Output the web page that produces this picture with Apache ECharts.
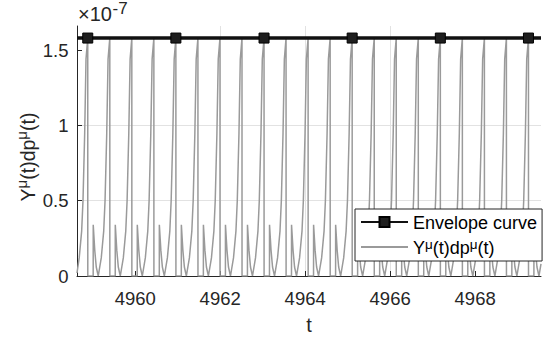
<!DOCTYPE html>
<html><head><meta charset="utf-8">
<script src="https://cdn.jsdelivr.net/npm/echarts@6/dist/echarts.min.js"></script>
<style>html,body{margin:0;padding:0;background:#fff}#c{width:546px;height:342px}</style>
</head><body><div id="c"></div>
<script>
// axis extents (y values are in units of 1e-7)
const xMin = 4958.63, xMax = 4969.55;
const yMin = 0, yMax = 1.66;
const xTicks = [4960, 4962, 4964, 4966, 4968];
const yTicks = [0, 0.5, 1, 1.5];

// Envelope curve
const envelopeT = [4958.63, 4958.883, 4960.957, 4963.032, 4965.106, 4967.181, 4969.255, 4969.55];
const envelopeY = [1.58, 1.58, 1.58, 1.58, 1.58, 1.58, 1.58, 1.58];
const envelopeMarker = [false, true, true, true, true, true, true, false];

// Y^mu(t) dp^mu(t) signal
const signalT = [
  4958.630, 4958.682, 4958.740, 4958.771, 4958.811, 4958.842,
  4958.883, 4958.884, 4959.011, 4959.012, 4959.048, 4959.083, 4959.130, 4959.201, 4959.259, 4959.290, 4959.330, 4959.361,
  4959.402, 4959.403, 4959.530, 4959.531, 4959.567, 4959.602, 4959.649, 4959.720, 4959.778, 4959.809, 4959.849, 4959.880,
  4959.920, 4959.921, 4960.048, 4960.049, 4960.085, 4960.120, 4960.167, 4960.238, 4960.296, 4960.327, 4960.367, 4960.398,
  4960.439, 4960.440, 4960.567, 4960.568, 4960.604, 4960.639, 4960.686, 4960.757, 4960.815, 4960.846, 4960.886, 4960.917,
  4960.957, 4960.958, 4961.085, 4961.086, 4961.122, 4961.157, 4961.204, 4961.275, 4961.333, 4961.364, 4961.404, 4961.435,
  4961.476, 4961.477, 4961.604, 4961.605, 4961.641, 4961.676, 4961.723, 4961.794, 4961.852, 4961.883, 4961.923, 4961.954,
  4961.995, 4961.996, 4962.123, 4962.124, 4962.160, 4962.195, 4962.242, 4962.313, 4962.371, 4962.402, 4962.442, 4962.473,
  4962.513, 4962.514, 4962.641, 4962.642, 4962.678, 4962.713, 4962.760, 4962.831, 4962.889, 4962.920, 4962.960, 4962.991,
  4963.032, 4963.033, 4963.160, 4963.161, 4963.197, 4963.232, 4963.279, 4963.350, 4963.408, 4963.439, 4963.479, 4963.510,
  4963.550, 4963.551, 4963.678, 4963.679, 4963.715, 4963.750, 4963.797, 4963.868, 4963.926, 4963.957, 4963.997, 4964.028,
  4964.069, 4964.070, 4964.197, 4964.198, 4964.234, 4964.269, 4964.316, 4964.387, 4964.445, 4964.476, 4964.516, 4964.547,
  4964.588, 4964.589, 4964.716, 4964.717, 4964.753, 4964.788, 4964.835, 4964.906, 4964.964, 4964.995, 4965.035, 4965.066,
  4965.106, 4965.107, 4965.234, 4965.235, 4965.271, 4965.306, 4965.353, 4965.424, 4965.482, 4965.513, 4965.553, 4965.584,
  4965.625, 4965.626, 4965.753, 4965.754, 4965.790, 4965.825, 4965.872, 4965.943, 4966.001, 4966.032, 4966.072, 4966.103,
  4966.143, 4966.144, 4966.271, 4966.272, 4966.308, 4966.343, 4966.390, 4966.461, 4966.519, 4966.550, 4966.590, 4966.621,
  4966.662, 4966.663, 4966.790, 4966.791, 4966.827, 4966.862, 4966.909, 4966.980, 4967.038, 4967.069, 4967.109, 4967.140,
  4967.181, 4967.182, 4967.309, 4967.310, 4967.346, 4967.381, 4967.428, 4967.499, 4967.557, 4967.588, 4967.628, 4967.659,
  4967.699, 4967.700, 4967.827, 4967.828, 4967.864, 4967.899, 4967.946, 4968.017, 4968.075, 4968.106, 4968.146, 4968.177,
  4968.218, 4968.219, 4968.346, 4968.347, 4968.383, 4968.418, 4968.465, 4968.536, 4968.594, 4968.625, 4968.665, 4968.696,
  4968.736, 4968.737, 4968.864, 4968.865, 4968.901, 4968.936, 4968.983, 4969.054, 4969.112, 4969.143, 4969.183, 4969.214,
  4969.255, 4969.256, 4969.383, 4969.384, 4969.420, 4969.455, 4969.502, 4969.550
];
const signalY = [
  0.02, 0.12, 0.30, 0.50, 0.95, 1.44,
  1.58, 0, 0, 0.34, 0.17, 0.06, 0, 0.12, 0.30, 0.50, 0.95, 1.44,
  1.58, 0, 0, 0.34, 0.17, 0.06, 0, 0.12, 0.30, 0.50, 0.95, 1.44,
  1.58, 0, 0, 0.34, 0.17, 0.06, 0, 0.12, 0.30, 0.50, 0.95, 1.44,
  1.58, 0, 0, 0.34, 0.17, 0.06, 0, 0.12, 0.30, 0.50, 0.95, 1.44,
  1.58, 0, 0, 0.34, 0.17, 0.06, 0, 0.12, 0.30, 0.50, 0.95, 1.44,
  1.58, 0, 0, 0.34, 0.17, 0.06, 0, 0.12, 0.30, 0.50, 0.95, 1.44,
  1.58, 0, 0, 0.34, 0.17, 0.06, 0, 0.12, 0.30, 0.50, 0.95, 1.44,
  1.58, 0, 0, 0.34, 0.17, 0.06, 0, 0.12, 0.30, 0.50, 0.95, 1.44,
  1.58, 0, 0, 0.34, 0.17, 0.06, 0, 0.12, 0.30, 0.50, 0.95, 1.44,
  1.58, 0, 0, 0.34, 0.17, 0.06, 0, 0.12, 0.30, 0.50, 0.95, 1.44,
  1.58, 0, 0, 0.34, 0.17, 0.06, 0, 0.12, 0.30, 0.50, 0.95, 1.44,
  1.58, 0, 0, 0.34, 0.17, 0.06, 0, 0.12, 0.30, 0.50, 0.95, 1.44,
  1.58, 0, 0, 0.34, 0.17, 0.06, 0, 0.12, 0.30, 0.50, 0.95, 1.44,
  1.58, 0, 0, 0.34, 0.17, 0.06, 0, 0.12, 0.30, 0.50, 0.95, 1.44,
  1.58, 0, 0, 0.34, 0.17, 0.06, 0, 0.12, 0.30, 0.50, 0.95, 1.44,
  1.58, 0, 0, 0.34, 0.17, 0.06, 0, 0.12, 0.30, 0.50, 0.95, 1.44,
  1.58, 0, 0, 0.34, 0.17, 0.06, 0, 0.12, 0.30, 0.50, 0.95, 1.44,
  1.58, 0, 0, 0.34, 0.17, 0.06, 0, 0.12, 0.30, 0.50, 0.95, 1.44,
  1.58, 0, 0, 0.34, 0.17, 0.06, 0, 0.12, 0.30, 0.50, 0.95, 1.44,
  1.58, 0, 0, 0.34, 0.17, 0.06, 0, 0.12, 0.30, 0.50, 0.95, 1.44,
  1.58, 0, 0, 0.34, 0.17, 0.06, 0, 0.08
];

const envName = 'Envelope curve';
const sigName = 'Yμ(t)dpμ(t)';
const font = '"Liberation Sans", Arial, Helvetica, sans-serif';
const ink = '#262626';

const chart = echarts.init(document.getElementById('c'), null, {renderer: 'svg'});
chart.setOption({
  animation: false,
  backgroundColor: '#fff',
  grid: {left: 77, right: 5, top: 26, bottom: 66},
  xAxis: {
    type: 'value', min: xMin, max: xMax, minInterval: 2, maxInterval: 2,
    name: 't', nameLocation: 'middle', nameGap: 39, nameMoveOverlap: false,
    nameTextStyle: {fontFamily: font, fontSize: 20, color: ink},
    axisLine: {show: true, onZero: false, lineStyle: {color: ink, width: 1}},
    axisTick: {show: true, inside: true, length: 5, customValues: xTicks, lineStyle: {color: ink}},
    axisLabel: {customValues: xTicks, margin: 13, fontFamily: font, fontSize: 18.5, color: ink,
      formatter: v => String(v)},
    splitLine: {show: true, showMinLine: false, showMaxLine: false, lineStyle: {color: '#e2e2e2', width: 1}}
  },
  yAxis: {
    type: 'value', min: yMin, max: yMax, interval: 0.5,
    name: '{n|Y}{s|μ}{n|(t)dp}{s|μ}{n|(t)}', nameLocation: 'middle', nameGap: 39, nameMoveOverlap: false,
    nameTextStyle: {fontFamily: font, fontSize: 19.5, color: ink, padding: [0, 12, 0, 0],
      rich: {
        n: {fontFamily: font, fontSize: 19.5, color: ink, lineHeight: 24, verticalAlign: 'bottom'},
        s: {fontFamily: font, fontSize: 15, color: ink, lineHeight: 15, verticalAlign: 'top'}
      }},
    axisLine: {show: true, onZero: false, lineStyle: {color: ink, width: 1}},
    axisTick: {show: true, inside: true, length: 5, customValues: yTicks, lineStyle: {color: ink}},
    axisLabel: {customValues: yTicks, margin: 8.5, fontFamily: font, fontSize: 18.5, color: ink,
      formatter: v => String(v)},
    splitLine: {show: true, showMinLine: false, showMaxLine: false, lineStyle: {color: '#e2e2e2', width: 1}}
  },
  legend: {
    orient: 'vertical', left: 355, top: 209, padding: [5, 5, 4, 5], itemGap: 5,
    itemWidth: 47, itemHeight: 12.5, backgroundColor: '#fff', borderColor: ink, borderWidth: 1,
    selectedMode: false,
    data: [{name: envName}, {name: sigName, itemStyle: {opacity: 0, color: 'rgba(0,0,0,0)', borderWidth: 0}}],
    textStyle: {fontFamily: font, fontSize: 18, color: '#000',
      rich: {
        n: {fontFamily: font, fontSize: 18, color: '#000', lineHeight: 20, verticalAlign: 'bottom'},
        s: {fontFamily: font, fontSize: 13.5, color: '#000', lineHeight: 13, verticalAlign: 'top'}
      }},
    formatter: name => name === sigName ? '{n|Y}{s|μ}{n|(t)dp}{s|μ}{n|(t)}' : '{n|' + name + '}'
  },
  graphic: [
    {type: 'text', x: 78, y: 14, style: {text: '×10', fontFamily: font, fontSize: 20, fill: ink,
      align: 'left', verticalAlign: 'middle'}},
    {type: 'text', x: 112.5, y: 8, style: {text: '-7', fontFamily: font, fontSize: 17, fill: ink,
      align: 'left', verticalAlign: 'middle'}}
  ],
  series: [
    {
      name: sigName, type: 'line', symbol: 'none', z: 2,
      data: signalT.map((t, i) => [t, signalY[i]]),
      lineStyle: {color: '#9a9a9a', width: 1.5}, itemStyle: {color: '#9a9a9a'}
    },
    {
      name: envName, type: 'line', symbol: 'rect', symbolSize: 10, z: 3,
      data: envelopeT.map((t, i) => ({value: [t, envelopeY[i]], symbol: envelopeMarker[i] ? 'rect' : 'none'})),
      lineStyle: {color: '#111', width: 3.5},
      itemStyle: {color: '#1e1e1e', borderColor: '#000', borderWidth: 1}
    }
  ]
});
</script></body></html>
